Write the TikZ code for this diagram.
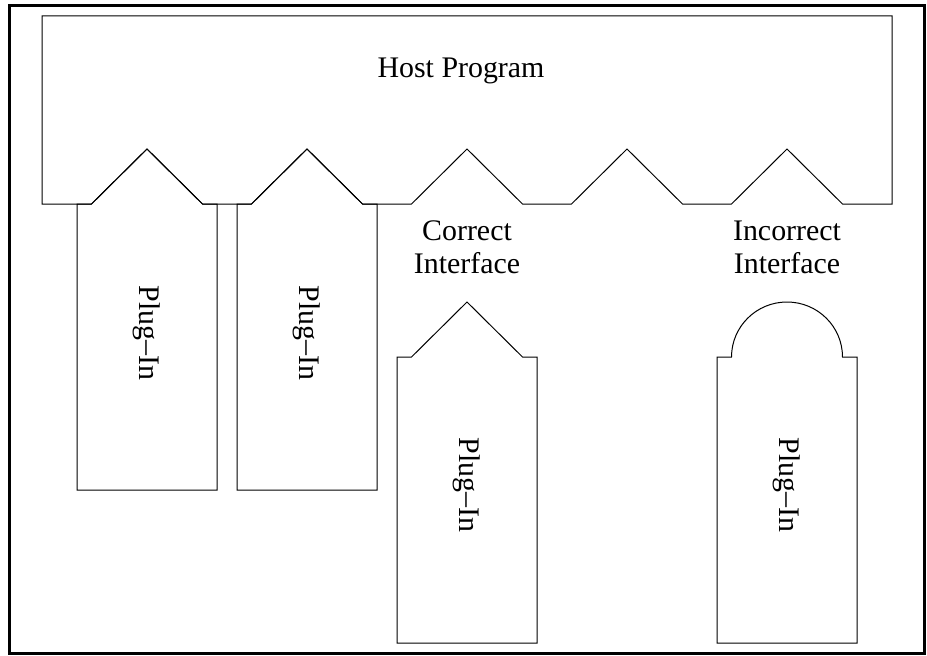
\documentclass[tikz,border=0pt]{standalone}
\usepackage{fontspec}
\setmainfont{Liberation Serif}
\begin{document}
\begin{tikzpicture}[x=1bp, y=-1bp,
  outline/.style={draw=black, line width=1bp, line join=miter},
  frame/.style={draw=black, line width=3bp},
  label/.style={font=\fontsize{30}{33}\selectfont, align=center, inner sep=0pt},
  pluglabel/.style={label, rotate=-90}]
  \useasboundingbox (0,0) rectangle (927,656);
  % outer frame
  \draw[frame] (9.5,6) rectangle (924.5,653.5);

  % host program with five notches along its lower edge
  \draw[outline] (42,16) -- (892,16) -- (892,204)
    \foreach \c in {787,627,467,307,147} {
      -- (\c+55.5,204) -- (\c,149) -- (\c-55.5,204)
    } -- (42,204) -- cycle;
  \node[label] (host) at (461,71) {Host Program};

  % two plug-ins seated in the first two notches
  \foreach \c/\n in {147/p1, 307/p2} {
    \draw[outline] (\c-70,490) -- (\c-70,204) -- (\c-55.5,204) -- (\c,149)
      -- (\c+55.5,204) -- (\c+70,204) -- (\c+70,490) -- cycle;
  }
  \node[pluglabel] (p1) at (147,333) {Plug–In};
  \node[pluglabel] (p2) at (307,333) {Plug–In};

  % plug-in with a matching pointed interface
  \draw[outline] (397,643) -- (397,357) -- (411.5,357) -- (467,302)
    -- (522.5,357) -- (537,357) -- (537,643) -- cycle;
  \node[pluglabel] (p3) at (467,485) {Plug–In};
  \node[label] (correct) at (467,247) {Correct\\Interface};

  % plug-in with a rounded, non-matching interface
  \draw[outline] (717,643) -- (717,357) -- (731.5,357)
    arc[start angle=180, end angle=0, x radius=55.5bp, y radius=55bp]
    -- (857,357) -- (857,643) -- cycle;
  \node[pluglabel] (p4) at (787,485) {Plug–In};
  \node[label] (incorrect) at (787,247) {Incorrect\\Interface};
\end{tikzpicture}
\end{document}
